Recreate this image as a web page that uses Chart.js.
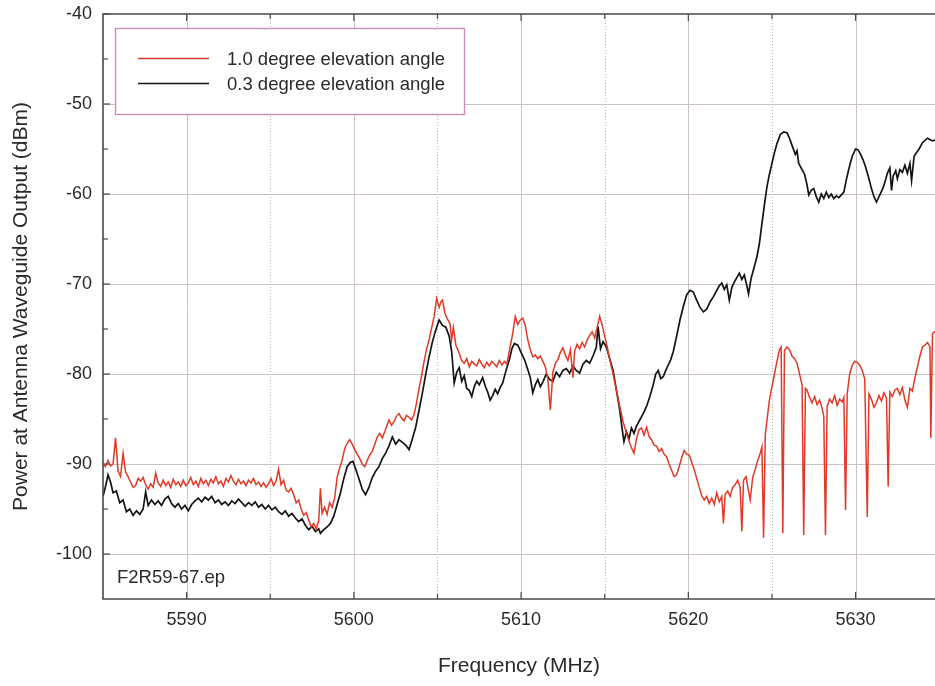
<!DOCTYPE html>
<html>
<head>
<meta charset="utf-8">
<script src="https://cdn.jsdelivr.net/npm/chart.js@4.4.1/dist/chart.umd.min.js"></script>
<style>
html,body{margin:0;padding:0;background:#ffffff;}
#wrap{width:935px;height:686px;position:relative;}
</style>
</head>
<body>
<div id="wrap"><canvas id="c" width="935" height="686"></canvas></div>
<script>
// ---- tick labels / grid positions ----
const xTicks = [5590, 5600, 5610, 5620, 5630];
const xMinor = [5595, 5605, 5615, 5625];
const yTicks = [-40, -50, -60, -70, -80, -90, -100];
const yMinor = [-45, -55, -65, -75, -85, -95];
const seriesLabels = ['1.0 degree elevation angle', '0.3 degree elevation angle'];
const noteText = 'F2R59-67.ep';

// ---- 0.3 degree elevation angle (black) ----
const freq03 = [
5585.0,5585.15,5585.3,5585.45,5585.6,5585.8,5586.0,5586.2,5586.4,5586.6,
5586.8,5587.0,5587.2,5587.4,5587.55,5587.7,5587.9,5588.1,5588.3,5588.5,
5588.7,5588.9,5589.1,5589.3,5589.5,5589.7,5589.9,5590.1,5590.3,5590.5,
5590.7,5590.9,5591.1,5591.3,5591.5,5591.7,5591.9,5592.1,5592.3,5592.5,
5592.7,5592.9,5593.1,5593.3,5593.5,5593.7,5593.9,5594.1,5594.3,5594.5,
5594.7,5594.9,5595.1,5595.3,5595.5,5595.7,5595.9,5596.1,5596.3,5596.5,
5596.7,5596.9,5597.1,5597.3,5597.5,5597.7,5597.9,5598.0,5598.2,5598.4,
5598.6,5598.8,5599.0,5599.2,5599.4,5599.6,5599.8,5599.95,5600.1,5600.3,
5600.5,5600.7,5600.9,5601.1,5601.3,5601.5,5601.7,5601.9,5602.1,5602.3,
5602.5,5602.7,5602.9,5603.1,5603.3,5603.5,5603.7,5603.9,5604.1,5604.3,
5604.5,5604.7,5604.9,5605.1,5605.3,5605.5,5605.7,5605.85,5606.0,5606.15,
5606.3,5606.45,5606.6,5606.75,5606.9,5607.05,5607.2,5607.35,5607.5,5607.7,
5607.85,5608.0,5608.15,5608.3,5608.45,5608.6,5608.75,5608.9,5609.1,5609.3,
5609.45,5609.6,5609.8,5610.0,5610.2,5610.4,5610.55,5610.7,5610.85,5611.0,
5611.15,5611.3,5611.5,5611.7,5611.9,5612.1,5612.3,5612.5,5612.7,5612.9,
5613.1,5613.3,5613.5,5613.7,5613.9,5614.1,5614.3,5614.5,5614.6,5614.75,
5614.9,5615.1,5615.3,5615.5,5615.7,5615.9,5616.05,5616.15,5616.3,5616.45,
5616.6,5616.75,5616.9,5617.1,5617.3,5617.5,5617.7,5617.9,5618.05,5618.2,
5618.35,5618.5,5618.65,5618.8,5618.95,5619.1,5619.3,5619.5,5619.7,5619.9,
5620.1,5620.3,5620.5,5620.7,5620.9,5621.1,5621.3,5621.5,5621.7,5621.85,
5622.0,5622.15,5622.3,5622.45,5622.6,5622.75,5622.9,5623.05,5623.2,5623.35,
5623.5,5623.6,5623.75,5623.9,5624.0,5624.1,5624.25,5624.4,5624.55,5624.7,
5624.85,5625.0,5625.15,5625.3,5625.5,5625.7,5625.9,5626.05,5626.2,5626.3,
5626.4,5626.5,5626.6,5626.8,5626.95,5627.1,5627.2,5627.35,5627.5,5627.65,
5627.8,5627.95,5628.1,5628.25,5628.4,5628.55,5628.7,5628.85,5629.0,5629.15,
5629.3,5629.45,5629.6,5629.8,5630.0,5630.15,5630.3,5630.45,5630.6,5630.8,
5630.95,5631.1,5631.25,5631.35,5631.5,5631.65,5631.8,5631.9,5632.05,5632.15,
5632.25,5632.4,5632.5,5632.65,5632.8,5632.95,5633.1,5633.25,5633.35,5633.5,
5633.65,5633.8,5634.0,5634.3,5634.6,5634.8
];
const power03 = [
-93.6,-92.5,-91.2,-92.0,-93.2,-93.0,-94.3,-94.0,-95.3,-95.0,
-95.7,-95.2,-95.6,-95.0,-93.1,-94.6,-94.0,-94.5,-94.1,-94.6,
-93.9,-93.6,-94.4,-94.8,-94.4,-95.0,-94.6,-95.2,-94.5,-94.1,
-93.8,-94.2,-93.7,-94.0,-93.6,-94.3,-94.0,-94.5,-94.2,-94.6,
-94.1,-94.4,-93.9,-94.3,-94.7,-94.3,-94.6,-94.2,-94.8,-94.5,
-95.0,-94.6,-95.1,-94.8,-95.3,-95.6,-95.2,-95.8,-95.5,-96.0,
-96.4,-96.1,-96.8,-97.3,-96.9,-97.5,-97.2,-97.7,-97.3,-97.0,
-96.6,-95.8,-94.5,-93.2,-91.6,-90.3,-89.8,-89.7,-90.5,-91.6,
-92.8,-93.4,-92.6,-91.5,-90.8,-90.3,-89.4,-88.8,-88.0,-87.0,
-87.8,-87.3,-87.6,-87.9,-88.4,-87.2,-85.9,-84.0,-82.1,-80.0,
-78.1,-76.4,-75.1,-74.0,-74.6,-74.8,-75.8,-77.5,-81.0,-79.8,
-79.3,-80.8,-80.2,-81.6,-81.8,-82.5,-81.4,-80.8,-81.2,-80.4,
-81.3,-82.0,-82.9,-82.4,-81.7,-82.2,-81.5,-81.0,-79.6,-78.4,
-77.2,-76.6,-76.8,-77.6,-78.4,-79.5,-80.4,-82.1,-81.2,-80.6,
-81.4,-80.9,-80.0,-80.6,-80.8,-79.8,-80.3,-79.6,-79.4,-79.9,
-79.1,-79.6,-79.9,-78.9,-78.5,-78.8,-78.0,-77.0,-74.7,-77.2,
-76.4,-77.0,-78.3,-79.6,-81.8,-84.0,-86.2,-87.5,-86.4,-87.2,
-86.0,-86.6,-85.8,-85.1,-84.4,-83.6,-82.5,-81.2,-80.0,-79.6,
-80.5,-80.3,-79.6,-79.0,-78.4,-77.5,-75.8,-74.0,-72.5,-71.2,
-70.7,-70.9,-71.8,-72.6,-73.1,-72.8,-72.0,-71.4,-70.7,-70.2,
-69.9,-70.6,-70.1,-71.8,-70.4,-69.8,-69.3,-68.8,-69.5,-69.0,
-70.2,-71.1,-69.4,-68.4,-67.7,-67.0,-65.5,-63.3,-61.2,-59.2,
-57.8,-56.6,-55.4,-54.4,-53.4,-53.1,-53.2,-53.8,-54.6,-55.1,
-55.6,-55.2,-56.6,-57.3,-57.8,-59.0,-60.1,-59.6,-59.4,-60.3,
-60.9,-60.0,-60.5,-59.8,-60.4,-60.0,-60.5,-60.2,-60.4,-60.1,
-59.8,-58.4,-57.2,-55.8,-55.0,-55.1,-55.6,-56.2,-57.0,-58.3,
-59.4,-60.3,-60.9,-60.5,-59.9,-59.3,-58.4,-57.7,-57.1,-59.6,
-58.0,-57.4,-58.3,-57.3,-57.6,-56.8,-57.7,-56.6,-58.5,-55.8,
-55.4,-55.0,-54.3,-53.8,-54.1,-54.0
];

// ---- 1.0 degree elevation angle (red) ----
const freq10 = [
5585.0,5585.15,5585.3,5585.45,5585.6,5585.75,5585.9,5586.05,5586.2,5586.35,
5586.5,5586.65,5586.8,5586.95,5587.1,5587.25,5587.4,5587.55,5587.7,5587.85,
5588.0,5588.15,5588.3,5588.45,5588.6,5588.75,5588.9,5589.05,5589.2,5589.35,
5589.5,5589.65,5589.8,5589.95,5590.1,5590.25,5590.4,5590.55,5590.7,5590.85,
5591.0,5591.15,5591.3,5591.45,5591.6,5591.75,5591.9,5592.05,5592.2,5592.35,
5592.5,5592.65,5592.8,5592.95,5593.1,5593.25,5593.4,5593.55,5593.7,5593.85,
5594.0,5594.15,5594.3,5594.45,5594.6,5594.75,5594.9,5595.05,5595.2,5595.35,
5595.5,5595.65,5595.8,5595.95,5596.1,5596.25,5596.4,5596.55,5596.7,5596.85,
5597.0,5597.15,5597.3,5597.45,5597.6,5597.75,5597.9,5598.0,5598.1,5598.25,
5598.4,5598.55,5598.7,5598.85,5599.0,5599.15,5599.3,5599.45,5599.6,5599.75,
5599.9,5600.05,5600.2,5600.35,5600.5,5600.65,5600.8,5600.95,5601.1,5601.25,
5601.4,5601.55,5601.7,5601.85,5602.0,5602.1,5602.25,5602.4,5602.55,5602.7,
5602.85,5603.0,5603.15,5603.3,5603.45,5603.6,5603.75,5603.9,5604.05,5604.2,
5604.35,5604.5,5604.65,5604.8,5604.95,5605.1,5605.2,5605.3,5605.45,5605.6,
5605.75,5605.85,5605.95,5606.1,5606.3,5606.45,5606.6,5606.75,5606.9,5607.05,
5607.2,5607.35,5607.5,5607.65,5607.8,5607.95,5608.1,5608.25,5608.4,5608.55,
5608.7,5608.85,5609.0,5609.15,5609.3,5609.5,5609.65,5609.8,5609.95,5610.1,
5610.25,5610.4,5610.55,5610.7,5610.85,5611.0,5611.15,5611.3,5611.45,5611.6,
5611.75,5611.9,5612.05,5612.2,5612.35,5612.5,5612.65,5612.8,5612.95,5613.1,
5613.2,5613.35,5613.5,5613.65,5613.8,5613.95,5614.1,5614.25,5614.4,5614.55,
5614.7,5614.85,5615.0,5615.15,5615.3,5615.5,5615.7,5615.9,5616.1,5616.3,
5616.5,5616.6,5616.75,5616.9,5617.05,5617.2,5617.35,5617.5,5617.65,5617.8,
5617.95,5618.1,5618.25,5618.4,5618.55,5618.7,5618.85,5619.0,5619.15,5619.3,
5619.45,5619.6,5619.75,5619.9,5620.05,5620.2,5620.35,5620.5,5620.65,5620.8,
5620.95,5621.1,5621.25,5621.4,5621.55,5621.7,5621.85,5622.0,5622.1,5622.2,
5622.35,5622.5,5622.65,5622.8,5622.95,5623.1,5623.2,5623.3,5623.45,5623.55,
5623.7,5623.85,5624.0,5624.15,5624.3,5624.4,5624.5,5624.6,5624.75,5624.85,
5625.0,5625.15,5625.3,5625.45,5625.55,5625.65,5625.75,5625.9,5626.05,5626.2,
5626.35,5626.5,5626.65,5626.8,5626.9,5627.0,5627.1,5627.25,5627.4,5627.55,
5627.7,5627.85,5628.0,5628.1,5628.2,5628.3,5628.45,5628.6,5628.75,5628.9,
5629.05,5629.2,5629.3,5629.4,5629.5,5629.65,5629.8,5629.95,5630.1,5630.25,
5630.4,5630.55,5630.7,5630.8,5630.95,5631.1,5631.25,5631.4,5631.55,5631.7,
5631.85,5631.95,5632.05,5632.2,5632.35,5632.5,5632.65,5632.8,5632.95,5633.1,
5633.25,5633.4,5633.55,5633.7,5633.85,5634.0,5634.15,5634.3,5634.45,5634.5,
5634.6,5634.8
];
const power10 = [
-89.9,-90.3,-89.6,-90.2,-90.0,-87.1,-90.8,-91.4,-88.8,-90.9,
-91.4,-92.0,-92.6,-92.4,-91.6,-91.9,-91.5,-92.3,-92.8,-92.2,
-92.6,-91.0,-92.1,-92.5,-91.8,-92.4,-92.0,-92.6,-91.7,-92.3,
-92.0,-92.5,-91.8,-92.4,-92.1,-91.5,-92.3,-91.9,-92.5,-91.6,
-92.2,-91.8,-92.4,-91.7,-92.1,-91.4,-92.2,-91.9,-92.5,-91.6,
-92.0,-91.3,-91.9,-92.3,-91.7,-92.2,-91.9,-92.4,-91.8,-92.1,
-91.6,-92.3,-92.0,-92.5,-92.1,-92.6,-92.2,-91.6,-92.4,-91.9,
-90.6,-92.3,-91.8,-92.9,-93.1,-92.7,-93.4,-94.3,-94.0,-95.0,
-95.7,-95.4,-96.2,-97.0,-96.6,-97.2,-96.3,-92.7,-95.5,-94.8,
-95.6,-94.3,-94.8,-93.8,-91.5,-90.4,-89.6,-88.3,-87.7,-87.3,
-87.8,-88.4,-88.9,-89.4,-90.0,-90.3,-89.6,-89.0,-88.6,-87.8,
-87.0,-86.6,-87.1,-86.4,-85.6,-85.1,-85.7,-85.3,-84.7,-84.4,
-84.9,-85.2,-84.6,-84.8,-85.1,-84.5,-83.2,-81.6,-80.2,-78.6,
-77.2,-76.2,-74.9,-73.6,-71.6,-72.6,-72.0,-71.8,-73.3,-73.9,
-74.4,-76.2,-74.8,-76.8,-77.7,-78.5,-78.8,-78.3,-79.2,-78.6,
-78.9,-79.1,-78.4,-78.9,-79.3,-78.7,-79.1,-78.6,-78.9,-79.2,
-78.5,-79.0,-78.6,-78.9,-77.4,-75.5,-73.6,-74.5,-74.0,-73.8,
-74.6,-76.2,-77.3,-78.1,-77.9,-78.3,-78.0,-78.6,-79.2,-80.6,
-84.0,-79.8,-78.8,-78.4,-77.6,-77.1,-77.9,-78.5,-77.3,-80.4,
-77.5,-76.7,-77.2,-76.5,-77.0,-76.2,-75.7,-75.3,-76.0,-74.8,
-73.6,-74.6,-75.8,-77.0,-78.4,-80.0,-81.8,-83.6,-85.3,-86.6,
-87.7,-88.2,-88.8,-87.2,-86.2,-86.0,-86.8,-85.9,-86.9,-87.3,
-87.9,-88.0,-88.6,-88.3,-88.9,-89.2,-90.0,-90.7,-91.4,-91.2,
-90.3,-89.3,-88.5,-88.9,-89.0,-89.8,-90.6,-91.6,-92.6,-93.5,
-94.0,-93.6,-94.4,-93.8,-94.5,-93.2,-94.2,-93.6,-96.6,-93.4,
-93.0,-93.6,-92.6,-92.3,-91.8,-92.6,-97.5,-91.8,-91.4,-92.5,
-94.0,-91.5,-90.6,-89.6,-88.8,-88.1,-98.2,-86.8,-84.4,-82.9,
-81.4,-80.0,-78.6,-77.3,-77.0,-97.7,-77.4,-77.0,-77.3,-78.0,
-78.3,-78.8,-80.0,-81.2,-97.9,-81.6,-81.8,-82.6,-83.2,-82.5,
-83.4,-82.9,-83.8,-84.7,-97.9,-83.6,-82.8,-83.2,-82.4,-83.5,
-82.8,-83.1,-82.6,-95.1,-82.2,-80.0,-79.0,-78.6,-78.7,-79.0,
-79.6,-80.6,-95.9,-82.2,-82.8,-83.7,-83.2,-82.4,-83.0,-82.1,
-82.7,-92.5,-82.0,-82.5,-81.8,-81.6,-82.3,-81.5,-82.9,-83.7,
-81.6,-81.9,-80.4,-79.2,-78.0,-77.0,-76.8,-76.5,-77.0,-87.1,
-75.5,-75.2
];

const seriesColors = ['#e03a26', '#141414'];

function pairs(fs, vs) {
  const n = Math.min(fs.length, vs.length);
  const out = [];
  for (let i = 0; i < n; i++) out.push({x: fs[i], y: vs[i]});
  return out;
}

const FONT = '"Liberation Sans", Arial, Helvetica, sans-serif';
const TEXT = '#2a2a2a';

const decor = {
  id: 'decor',
  beforeDatasetsDraw(chart) {
    const {ctx, chartArea: a, scales: {x, y}} = chart;
    ctx.save();
    ctx.lineWidth = 1;
    // minor vertical dotted
    ctx.strokeStyle = '#b9aeae';
    ctx.setLineDash([1, 2]);
    xMinor.forEach(v => {
      const p = Math.round(x.getPixelForValue(v)) + 0.5;
      if (p > a.right) return;
      ctx.beginPath(); ctx.moveTo(p, a.top); ctx.lineTo(p, a.bottom); ctx.stroke();
    });
    ctx.setLineDash([]);
    ctx.strokeStyle = '#cdc2c2';
    xTicks.forEach(v => {
      const p = Math.round(x.getPixelForValue(v)) + 0.5;
      ctx.beginPath(); ctx.moveTo(p, a.top); ctx.lineTo(p, a.bottom); ctx.stroke();
    });
    yTicks.forEach(v => {
      const p = Math.round(y.getPixelForValue(v)) + 0.5;
      if (p <= a.top + 1) return;
      ctx.beginPath(); ctx.moveTo(a.left, p); ctx.lineTo(a.right, p); ctx.stroke();
    });
    ctx.restore();
  },
  afterDatasetsDraw(chart) {
    const {ctx, chartArea: a, scales: {x, y}} = chart;
    ctx.save();
    // frame
    ctx.strokeStyle = '#4a4a4a';
    ctx.lineWidth = 1.6;
    ctx.beginPath();
    ctx.moveTo(a.right, a.top); ctx.lineTo(a.left, a.top);
    ctx.lineTo(a.left, a.bottom); ctx.lineTo(a.right, a.bottom);
    ctx.stroke();
    ctx.lineWidth = 1.2;
    const tick = (vals, len) => {
      vals.forEach(v => {
        const p = x.getPixelForValue(v);
        if (p > a.right) return;
        ctx.beginPath(); ctx.moveTo(p, a.bottom); ctx.lineTo(p, a.bottom - len); ctx.stroke();
        ctx.beginPath(); ctx.moveTo(p, a.top); ctx.lineTo(p, a.top + len); ctx.stroke();
      });
    };
    tick(xTicks, 7); tick(xMinor, 5);
    const ytick = (vals, len) => {
      vals.forEach(v => {
        const p = y.getPixelForValue(v);
        ctx.beginPath(); ctx.moveTo(a.left, p); ctx.lineTo(a.left + len, p); ctx.stroke();
      });
    };
    ytick(yTicks, 7); ytick(yMinor, 5);

    // legend box
    const bx = 115.5, by = 28.5, bw = 349, bh = 86;
    ctx.fillStyle = '#ffffff';
    ctx.fillRect(bx, by, bw, bh);
    ctx.strokeStyle = '#c78fbd';
    ctx.lineWidth = 1.4;
    ctx.strokeRect(bx, by, bw, bh);
    const rows = [58.5, 83.5];
    ctx.font = '18.5px ' + FONT;
    ctx.textBaseline = 'middle';
    ctx.textAlign = 'left';
    chart.data.datasets.forEach((ds, i) => {
      ctx.strokeStyle = ds.borderColor;
      ctx.lineWidth = 1.6;
      ctx.beginPath(); ctx.moveTo(138, rows[i]); ctx.lineTo(209, rows[i]); ctx.stroke();
      ctx.fillStyle = TEXT;
      ctx.fillText(ds.label, 227, rows[i] + 1);
    });
    // note
    ctx.textBaseline = 'alphabetic';
    ctx.fillText(noteText, 117, 583);
    ctx.restore();
  }
};

new Chart(document.getElementById('c'), {
  type: 'line',
  data: {
    datasets: [
      {label: seriesLabels[0], data: pairs(freq10, power10), borderColor: seriesColors[0], borderWidth: 1.5, pointRadius: 0, tension: 0, fill: false},
      {label: seriesLabels[1], data: pairs(freq03, power03), borderColor: seriesColors[1], borderWidth: 1.7, pointRadius: 0, tension: 0, fill: false}
    ]
  },
  options: {
    responsive: false,
    devicePixelRatio: 1,
    animation: false,
    events: [],
    layout: {padding: {top: 14, left: 0, right: 0, bottom: 0}},
    plugins: {legend: {display: false}, tooltip: {enabled: false}},
    scales: {
      x: {
        type: 'linear', min: 5585, max: 5634.75,
        grid: {display: false, drawTicks: false},
        border: {display: false},
        afterBuildTicks: s => { s.ticks = xTicks.map(v => ({value: v})); },
        afterFit: s => { s.height = 87; s.paddingLeft = 0; s.paddingRight = 0; },
        ticks: {callback: v => String(v), font: {size: 18, family: FONT}, color: TEXT, padding: 10, maxRotation: 0, autoSkip: false},
        title: {display: true, text: 'Frequency (MHz)', font: {size: 21, family: FONT}, color: TEXT, padding: {top: 0, bottom: 7}}
      },
      y: {
        type: 'linear', min: -105, max: -40,
        grid: {display: false, drawTicks: false},
        border: {display: false},
        afterBuildTicks: s => { s.ticks = yTicks.map(v => ({value: v})); },
        afterFit: s => { s.width = 103; s.paddingTop = 0; s.paddingBottom = 0; },
        ticks: {callback: v => String(v), font: {size: 18, family: FONT}, color: TEXT, padding: 11, autoSkip: false},
        title: {display: true, text: 'Power at Antenna Waveguide Output (dBm)', font: {size: 21, family: FONT}, color: TEXT, padding: {top: 9, bottom: 0}}
      }
    }
  },
  plugins: [decor]
});
</script>
</body>
</html>
